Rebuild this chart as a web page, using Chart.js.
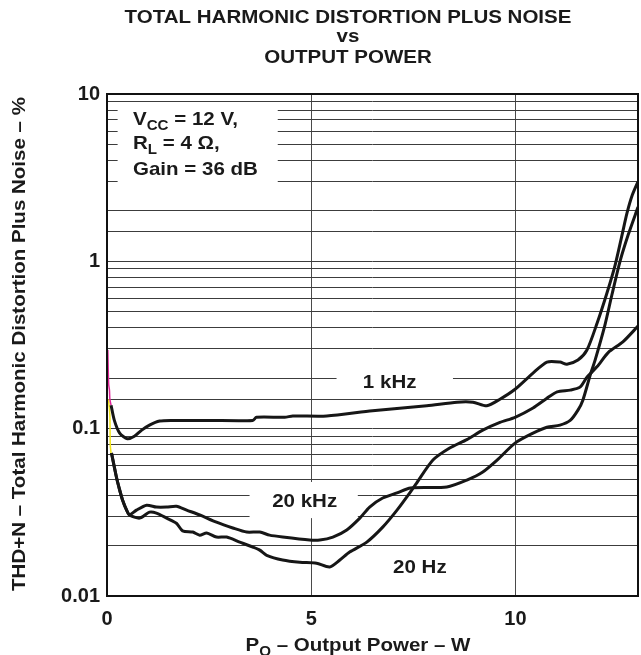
<!DOCTYPE html>
<html>
<head>
<meta charset="UTF-8">
<title>THD+N vs Output Power</title>
<script src="https://cdn.jsdelivr.net/npm/chart.js"></script>
<style>
  body { margin: 0; background: #fff; }
</style>
</head>
<body>
<canvas id="thdChart" width="641" height="655"></canvas>
<script>
// [output power (W), THD+N (%)]
const curve1k = [
  [0.10, 0.138], [0.18, 0.112], [0.31, 0.094], [0.50, 0.087], [0.67, 0.090], [0.85, 0.098],
  [1.04, 0.105], [1.29, 0.111], [1.58, 0.112], [2.50, 0.112], [3.57, 0.112], [3.66, 0.117],
  [4.35, 0.117], [4.55, 0.119], [5.38, 0.119], [6.50, 0.128], [7.83, 0.137], [8.57, 0.144],
  [8.96, 0.144], [9.30, 0.137], [9.62, 0.150], [9.99, 0.172], [10.43, 0.215], [10.77, 0.250],
  [11.09, 0.250], [11.26, 0.243], [11.53, 0.257], [11.75, 0.295], [12.00, 0.428], [12.24, 0.647],
  [12.44, 0.95], [12.61, 1.44], [12.73, 1.94], [12.86, 2.49], [13.0, 3.0]
];
const curve1kStart = [[0.02, 0.295], [0.04, 0.185], [0.06, 0.17], [0.07, 0.15], [0.10, 0.138]];

const curve20k = [
  [0.11, 0.0715], [0.23, 0.0514], [0.31, 0.043], [0.38, 0.0375], [0.48, 0.0326], [0.55, 0.0305],
  [0.72, 0.0326], [0.97, 0.0349], [1.21, 0.034], [1.46, 0.034], [1.70, 0.0344], [1.95, 0.0326],
  [2.27, 0.0305], [2.68, 0.0276], [3.08, 0.0255], [3.42, 0.0241], [3.74, 0.0241], [3.98, 0.0231],
  [4.30, 0.0225], [4.96, 0.0216], [5.21, 0.0216], [5.53, 0.0225], [5.87, 0.0248], [6.19, 0.0292],
  [6.43, 0.034], [6.75, 0.0385], [7.10, 0.0413], [7.43, 0.0442], [8.32, 0.0448], [8.81, 0.0493],
  [9.20, 0.0551], [9.55, 0.0649], [9.99, 0.082], [10.43, 0.094], [10.77, 0.102], [11.09, 0.105],
  [11.34, 0.112], [11.53, 0.129], [11.65, 0.148], [11.83, 0.209], [11.95, 0.257], [12.19, 0.416],
  [12.36, 0.629], [12.56, 1.0], [12.76, 1.44], [13.0, 2.11]
];
const curve20 = [
  [0.11, 0.0715], [0.23, 0.0514], [0.31, 0.043], [0.38, 0.0375], [0.48, 0.0326], [0.55, 0.0305],
  [0.80, 0.0292], [1.04, 0.0317], [1.21, 0.0313], [1.46, 0.0292], [1.70, 0.0272], [1.85, 0.0245],
  [2.10, 0.0241], [2.27, 0.0231], [2.44, 0.0238], [2.68, 0.0225], [2.93, 0.0225], [3.25, 0.0210],
  [3.57, 0.0196], [3.74, 0.0188], [3.91, 0.0175], [4.30, 0.0164], [4.72, 0.0159], [5.13, 0.0157],
  [5.45, 0.0149], [5.70, 0.0164], [5.94, 0.0183], [6.36, 0.0210], [6.75, 0.0258], [7.10, 0.0326],
  [7.43, 0.0419], [7.58, 0.0473], [7.98, 0.0649], [8.39, 0.0766], [8.81, 0.086], [9.20, 0.098],
  [9.62, 0.109], [9.99, 0.117], [10.43, 0.133], [10.77, 0.152], [11.02, 0.166], [11.34, 0.170],
  [11.58, 0.177], [11.75, 0.203], [12.00, 0.235], [12.27, 0.285], [12.63, 0.33], [13.0, 0.41]
];
const curveLowStart = [[0.02, 0.150], [0.04, 0.146], [0.07, 0.12], [0.08, 0.08], [0.10, 0.071]];

const xTickValues = [0, 5, 10];
const yTickValues = [0.01, 0.1, 1, 10];

const FAMILY = '"Liberation Sans", Arial, sans-serif';
const MAIN = 'bold 19px ' + FAMILY;
const SUB = 'bold 14px ' + FAMILY;
const STRETCH = 1.08;

const pts = arr => arr.map(([x, y]) => ({ x, y }));

// draws text runs, [text, isSubscript], slightly widened like the original lettering
function richText(ctx, parts, x, y, align) {
    ctx.save();
    let w = 0;
    parts.forEach(p => { ctx.font = p[1] ? SUB : MAIN; w += ctx.measureText(p[0]).width; });
    let cx = align === 'center' ? -w / 2 : 0;
    ctx.translate(x, y);
    ctx.scale(STRETCH, 1);
    ctx.fillStyle = '#1a1a1a';
    ctx.textAlign = 'left';
    ctx.textBaseline = 'alphabetic';
    parts.forEach(p => {
        ctx.font = p[1] ? SUB : MAIN;
        ctx.fillText(p[0], cx, p[1] ? 5 : 0);
        cx += ctx.measureText(p[0]).width;
    });
    ctx.restore();
}

const annotate = {
    id: 'annotate',
    beforeDatasetsDraw(chart) {
        const { ctx, scales: { x, y } } = chart;
        // white backgrounds behind the text, hiding the grid there
        const masks = [
            [0.26, 4.18, 8.59, 2.49],
            [3.49, 6.14, 0.048, 0.0292],
            [5.62, 8.47, 0.25, 0.1545]
        ];
        ctx.save();
        ctx.fillStyle = '#fff';
        masks.forEach(([x0, x1, y0, y1]) => {
            const px0 = x.getPixelForValue(x0), px1 = x.getPixelForValue(x1);
            const py0 = y.getPixelForValue(y0), py1 = y.getPixelForValue(y1);
            ctx.fillRect(px0, py0, px1 - px0, py1 - py0);
        });
        ctx.restore();
    },
    afterDraw(chart) {
        const { ctx, chartArea: a, scales: { x, y } } = chart;
        ctx.save();
        ctx.strokeStyle = '#111';
        ctx.lineWidth = 2;
        ctx.strokeRect(a.left, a.top, a.right - a.left, a.bottom - a.top);
        ctx.restore();

        // title
        richText(ctx, [['TOTAL HARMONIC DISTORTION PLUS NOISE']], 348, 23, 'center');
        richText(ctx, [['vs']], 348, 42, 'center');
        richText(ctx, [['OUTPUT POWER']], 348, 63, 'center');

        // conditions
        const lx = a.left + 26;
        richText(ctx, [['V'], ['CC', true], [' = 12 V,']], lx, a.top + 31);
        richText(ctx, [['R'], ['L', true], [' = 4 \u03A9,']], lx, a.top + 55);
        richText(ctx, [['Gain = 36 dB']], lx, a.top + 81);

        // curve labels
        const lab = (t, vx, vy) => richText(ctx, [[t]], x.getPixelForValue(vx), y.getPixelForValue(vy) + 7, 'center');
        lab('1 kHz', 6.92, 0.193);
        lab('20 kHz', 4.84, 0.0374);
        lab('20 Hz', 7.66, 0.0151);

        // axis titles
        richText(ctx, [['P'], ['O', true], [' \u2013 Output Power \u2013 W']], 358, 651, 'center');
        ctx.save();
        ctx.translate(25, 344);
        ctx.rotate(-Math.PI / 2);
        richText(ctx, [['THD+N \u2013 Total Harmonic Distortion Plus Noise \u2013 %']], 0, 0, 'center');
        ctx.restore();
    }
};

const line = (data, color, width) => ({
    data: pts(data),
    borderColor: color,
    borderWidth: width,
    pointRadius: 0,
    tension: 0.25,
    fill: false
});

new Chart(document.getElementById('thdChart').getContext('2d'), {
    type: 'line',
    data: {
        datasets: [
            line(curve1k, '#161616', 3),
            line(curve20k, '#161616', 3),
            line(curve20, '#161616', 3),
            line(curve1kStart, '#e0249a', 1.5),
            line(curveLowStart, '#f2e51a', 1.5)
        ]
    },
    options: {
        responsive: false,
        animation: false,
        devicePixelRatio: 1,
        layout: { padding: { top: 94, right: 3, left: 0, bottom: 0 } },
        plugins: { legend: { display: false }, title: { display: false }, tooltip: { enabled: false } },
        scales: {
            x: {
                type: 'linear',
                min: 0,
                max: 13,
                afterBuildTicks: s => { s.ticks = xTickValues.map(v => ({ value: v })); },
                afterFit: s => { s.height = 59; },
                border: { display: false },
                grid: { color: '#4a4a4a', lineWidth: 1, drawTicks: false },
                ticks: {
                    padding: 11,
                    color: '#1a1a1a',
                    font: { family: FAMILY, size: 20, weight: 'bold' }
                }
            },
            y: {
                type: 'logarithmic',
                min: 0.01,
                max: 10,
                afterFit: s => { s.width = 107; },
                border: { display: false },
                grid: { color: '#3c3c3c', lineWidth: 1, drawTicks: false },
                ticks: {
                    autoSkip: false,
                    padding: 7,
                    color: '#1a1a1a',
                    font: { family: FAMILY, size: 20, weight: 'bold' },
                    callback: v => yTickValues.some(t => Math.abs(t - v) < t * 1e-6) ? String(v) : ''
                }
            }
        }
    },
    plugins: [annotate]
});
</script>
</body>
</html>
